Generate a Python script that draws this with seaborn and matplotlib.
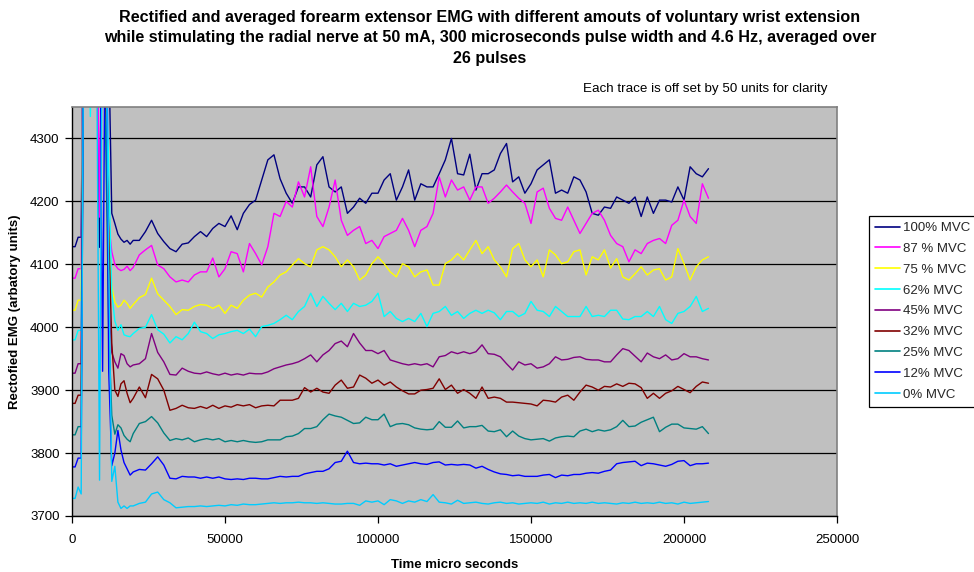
import numpy as np
import pandas as pd
import matplotlib
matplotlib.use("Agg")
import matplotlib.pyplot as plt
import seaborn as sns

# Sample times (microseconds): 1 ms steps through the stimulus artefact, 2 ms afterwards
time_us = np.concatenate([np.arange(0, 20000, 1000), np.arange(20000, 208001, 2000)])

labels = ["100% MVC", "87 % MVC", "75 % MVC", "62% MVC", "45% MVC",
          "32% MVC", "25% MVC", "12% MVC", "0% MVC"]
colors = ["#000080", "#FF00FF", "#FFFF00", "#00FFFF", "#800080",
          "#800000", "#008080", "#0000FF", "#00CCFF"]

mvc100 = [4128, 4128, 4143, 4143, 4700, 4800, 4750, 4700, 4600, 4127,
          4650, 4700, 4450, 4181, 4165, 4148, 4140, 4135, 4138, 4132,
          4138, 4138, 4152, 4170, 4149, 4136, 4125, 4120, 4132, 4134,
          4144, 4152, 4144, 4157, 4165, 4160, 4177, 4155, 4181, 4195,
          4202, 4234, 4266, 4274, 4236, 4213, 4197, 4223, 4223, 4207,
          4258, 4271, 4223, 4215, 4223, 4181, 4191, 4205, 4197, 4213,
          4213, 4234, 4244, 4202, 4223, 4250, 4202, 4228, 4223, 4223,
          4244, 4266, 4300, 4244, 4242,
          4275, 4218, 4244, 4244, 4250, 4276, 4292, 4231, 4239, 4213,
          4228, 4250, 4258, 4266, 4213, 4218, 4213, 4239, 4234, 4215,
          4181, 4178, 4191, 4189, 4207, 4202, 4197, 4207, 4176, 4207,
          4181, 4202, 4202, 4199, 4223, 4202, 4255, 4244, 4239, 4252]

mvc87 = [4078, 4078, 4093, 4093, 4700, 4750, 4700, 4650, 4600, 4175,
         4600, 4650, 4165, 4120, 4100, 4093, 4090, 4092, 4097, 4090,
         4095, 4115, 4123, 4130, 4099, 4093, 4080, 4072, 4075, 4072,
         4083, 4088, 4088, 4110, 4080, 4093, 4120, 4117, 4088, 4133,
         4117, 4099, 4128, 4181, 4176, 4200, 4191, 4231, 4207, 4255,
         4176, 4160, 4191, 4234, 4170, 4146, 4154, 4160, 4133, 4138,
         4125, 4144, 4149, 4154, 4173, 4154, 4128, 4154, 4160, 4181,
         4239, 4207, 4234, 4218, 4223,
         4202, 4223, 4223, 4197, 4205, 4215, 4226, 4215, 4205, 4197,
         4165, 4215, 4221, 4189, 4173, 4170, 4191, 4170, 4149, 4165,
         4181, 4186, 4170, 4146, 4133, 4128, 4104, 4123, 4117, 4133,
         4138, 4141, 4133, 4162, 4170, 4202, 4176, 4165, 4228, 4205]

mvc75 = [4027, 4027, 4043, 4043, 4700, 4700, 4650, 4600, 4550, 4500,
         4600, 4400, 4150, 4064, 4040, 4032, 4035, 4043, 4038, 4030,
         4036, 4047, 4052, 4078, 4053, 4043, 4033, 4020, 4028, 4027,
         4033, 4036, 4035, 4030, 4035, 4022, 4035, 4030, 4043, 4051,
         4054, 4048, 4064, 4072, 4083, 4088, 4099, 4109, 4101, 4096,
         4123, 4128, 4123, 4112, 4096, 4107, 4096, 4075, 4083, 4101,
         4112, 4101, 4088, 4080, 4101, 4096, 4080, 4088, 4091, 4067,
         4067, 4101, 4107, 4117, 4107,
         4123, 4138, 4117, 4128, 4107, 4096, 4080, 4125, 4133, 4107,
         4096, 4107, 4080, 4123, 4115, 4101, 4104, 4120, 4123, 4083,
         4112, 4107, 4123, 4094, 4109, 4080, 4075, 4085, 4096, 4083,
         4091, 4093, 4075, 4080, 4125, 4101, 4075, 4096, 4107, 4112]

mvc62 = [3980, 3980, 3995, 3995, 4700, 4600, 4335, 4600, 4650, 4600,
         4500, 4500, 4250, 4055, 4010, 3995, 4004, 3988, 3986, 3985,
         3990, 3998, 4000, 4020, 3996, 3989, 3975, 3985, 3980, 3990,
         4008, 3993, 3990, 3982, 3988, 3990, 3993, 3995, 3990, 3997,
         3985, 4001, 4003, 4006, 4012, 4019, 4012, 4025, 4033, 4054,
         4033, 4049, 4038, 4028, 4038, 4025, 4038, 4033, 4035, 4041,
         4054, 4017, 4025, 4014, 4009, 4014, 4009, 4022, 4001, 4022,
         4025, 4033, 4019, 4025, 4014,
         4022, 4027, 4022, 4027, 4023, 4012, 4025, 4025, 4017, 4022,
         4041, 4027, 4025, 4017, 4033, 4025, 4017, 4017, 4017, 4033,
         4017, 4019, 4017, 4027, 4027, 4013, 4012, 4017, 4017, 4025,
         4017, 4033, 4012, 4006, 4022, 4025, 4033, 4049, 4025, 4030]

mvc45 = [3927, 3927, 3942, 3942, 4700, 4700, 4650, 4600, 4600, 4550,
         4500, 4400, 4050, 3960, 3945, 3935, 3958, 3955, 3942, 3937,
         3940, 3942, 3950, 3990, 3960, 3945, 3925, 3924, 3935, 3930,
         3927, 3926, 3929, 3926, 3924, 3927, 3924, 3926, 3924, 3927,
         3926, 3926, 3929, 3934, 3937, 3940, 3942, 3945, 3950, 3956,
         3945, 3956, 3963, 3974, 3978, 3969, 3990, 3975, 3963, 3963,
         3958, 3963, 3948, 3945, 3942, 3940, 3942, 3940, 3942, 3937,
         3953, 3955, 3961, 3958, 3961,
         3958, 3961, 3972, 3958, 3957, 3953, 3942, 3932, 3945, 3940,
         3942, 3935, 3937, 3942, 3953, 3948, 3949, 3952, 3953, 3949,
         3948, 3948, 3945, 3945, 3956, 3966, 3963, 3954, 3945, 3959,
         3953, 3950, 3956, 3948, 3950, 3958, 3953, 3953, 3950, 3948]

mvc32 = [3879, 3879, 3892, 3892, 4650, 4700, 4650, 4600, 4550, 4500,
         4450, 4350, 4150, 3975, 3900, 3890, 3910, 3915, 3895, 3880,
         3887, 3905, 3888, 3925, 3918, 3900, 3868, 3871, 3876, 3872,
         3871, 3874, 3871, 3876, 3871, 3875, 3873, 3877, 3875, 3877,
         3872, 3875, 3876, 3875, 3884, 3884, 3884, 3887, 3904, 3897,
         3903, 3897, 3895, 3908, 3916, 3903, 3905, 3924, 3919, 3911,
         3916, 3908, 3913, 3905, 3899, 3894, 3894, 3900, 3901, 3903,
         3918, 3901, 3908, 3895, 3901,
         3895, 3887, 3905, 3887, 3889, 3887, 3881, 3881, 3880, 3879,
         3878, 3875, 3884, 3883, 3881, 3889, 3892, 3884, 3897, 3908,
         3905, 3900, 3906, 3905, 3910, 3906, 3911, 3910, 3904, 3887,
         3895, 3887, 3895, 3899, 3906, 3901, 3896, 3906, 3913, 3911]

mvc25 = [3829, 3829, 3842, 3842, 4650, 4700, 4650, 4600, 4550, 4500,
         4450, 4300, 4000, 3860, 3830, 3845, 3840, 3828, 3822, 3818,
         3831, 3847, 3850, 3858, 3848, 3832, 3820, 3823, 3821, 3824,
         3818, 3821, 3823, 3821, 3823, 3818, 3820, 3818, 3820, 3818,
         3817, 3818, 3821, 3821, 3821, 3826, 3827, 3831, 3839, 3839,
         3842, 3853, 3862, 3859, 3857, 3852, 3847, 3848, 3857, 3853,
         3853, 3862, 3842, 3846, 3847, 3845, 3840, 3838, 3837, 3838,
         3850, 3841, 3841, 3851, 3840,
         3842, 3842, 3844, 3835, 3834, 3837, 3826, 3835, 3827, 3823,
         3821, 3822, 3823, 3819, 3824, 3826, 3827, 3826, 3835, 3838,
         3834, 3837, 3835, 3837, 3842, 3852, 3842, 3843, 3849, 3853,
         3857, 3834, 3841, 3846, 3846, 3840, 3839, 3838, 3842, 3831]

mvc12 = [3778, 3778, 3792, 3792, 4650, 4700, 4650, 4600, 4550, 4600,
         3930, 4600, 3930, 3780, 3800, 3836, 3805, 3785, 3775, 3765,
         3770, 3774, 3773, 3783, 3794, 3781, 3760, 3759, 3763, 3762,
         3762, 3760, 3762, 3760, 3762, 3759, 3758, 3759, 3758, 3760,
         3760, 3759, 3759, 3761, 3763, 3762, 3763, 3763, 3767, 3769,
         3771, 3771, 3775, 3785, 3787, 3803, 3785, 3783, 3784, 3783,
         3783, 3781, 3783, 3779, 3781, 3783, 3785, 3783, 3782, 3785,
         3786, 3781, 3782, 3781, 3782,
         3781, 3776, 3779, 3774, 3770, 3767, 3766, 3764, 3765, 3763,
         3763, 3763, 3765, 3766, 3761, 3765, 3764, 3766, 3766, 3768,
         3769, 3768, 3771, 3773, 3783, 3785, 3786, 3787, 3780, 3784,
         3783, 3781, 3779, 3782, 3787, 3788, 3780, 3783, 3783, 3784]

mvc0 = [3728, 3728, 3746, 3735, 4700, 4750, 4700, 4650, 4500, 3757,
        4600, 4500, 4100, 3755, 3779, 3722, 3712, 3716, 3712, 3716,
        3716, 3720, 3722, 3735, 3738, 3726, 3721, 3713, 3714, 3715,
        3715, 3716, 3715, 3716, 3717, 3716, 3718, 3717, 3719, 3718,
        3718, 3719, 3720, 3721, 3720, 3721, 3721, 3722, 3721, 3721,
        3720, 3721, 3720, 3719, 3719, 3720, 3720, 3717, 3724, 3722,
        3724, 3718, 3726, 3724, 3720, 3724, 3722, 3726, 3723, 3734,
        3722, 3721, 3719, 3725, 3720,
        3721, 3722, 3720, 3719, 3721, 3722, 3720, 3721, 3719, 3720,
        3721, 3720, 3722, 3719, 3721, 3720, 3722, 3720, 3721, 3720,
        3722, 3720, 3721, 3720, 3719, 3721, 3720, 3722, 3720, 3721,
        3720, 3722, 3720, 3721, 3719, 3722, 3720, 3721, 3722, 3723]

traces = [mvc100, mvc87, mvc75, mvc62, mvc45, mvc32, mvc25, mvc12, mvc0]

df = pd.concat(
    [pd.DataFrame({"time": time_us, "emg": vals, "trace": lab})
     for lab, vals in zip(labels, traces)],
    ignore_index=True,
)

sns.set_theme(style="white")
plt.rcParams["font.family"] = ["Liberation Sans", "DejaVu Sans"]

fig = plt.figure(figsize=(9.74, 5.72), dpi=100)
ax = fig.add_axes([72 / 974, 56 / 572, 765 / 974, 409 / 572])
ax.set_facecolor("#C0C0C0")

yticks = list(range(3700, 4301, 100))
xticks = list(range(0, 250001, 50000))
for y in yticks:
    ax.axhline(y, color="black", lw=0.9, zorder=1)

sns.lineplot(data=df, x="time", y="emg", hue="trace", hue_order=labels,
             palette=dict(zip(labels, colors)), estimator=None, sort=False,
             linewidth=1.0, ax=ax, zorder=2)

ax.set_xlim(0, 250000)
ax.set_ylim(3700, 4350)
ax.set_xticks(xticks)
ax.set_xticklabels([str(v) for v in xticks])
ax.set_yticks(yticks)
ax.set_yticklabels([str(v) for v in yticks])
ax.tick_params(axis="both", which="major", bottom=True, left=True, direction="out",
               length=5, width=0.9, color="black", labelsize=9.5, labelcolor="black")
ax.tick_params(axis="x", pad=8)
ax.tick_params(axis="y", pad=4)

for side in ("left", "bottom"):
    ax.spines[side].set_color("black")
    ax.spines[side].set_linewidth(1.0)
for side in ("top", "right"):
    ax.spines[side].set_color("#808080")
    ax.spines[side].set_linewidth(1.2)

ax.set_xlabel("Time micro seconds", fontsize=9.5, fontweight="bold", color="black")
ax.xaxis.set_label_coords(0.5, (516 - 559) / 409)
ax.set_ylabel("Rectofied EMG (arbatory units)", fontsize=9.5, fontweight="bold", color="black")
ax.yaxis.set_label_coords((21 - 72) / 765, 0.5)

handles, hlabels = ax.get_legend_handles_labels()
ax.get_legend().remove()
leg = fig.legend(handles, hlabels, loc="upper left",
                 bbox_to_anchor=(869 / 974, 1 - 216 / 572, 0.14, 0),
                 mode="expand", frameon=True, fancybox=False, edgecolor="black",
                 facecolor="white", framealpha=1, fontsize=9.5, labelspacing=0.65,
                 handlelength=1.9, handletextpad=0.25, borderpad=0.45, borderaxespad=0)
leg.get_frame().set_linewidth(0.9)
for line in leg.get_lines():
    line.set_linewidth(1.2)

fig.text(490 / 974, 1 - 10 / 572,
         "Rectified and averaged forearm extensor EMG with different amouts of voluntary wrist extension\n"
         "while stimulating the radial nerve at 50 mA, 300 microseconds pulse width and 4.6 Hz, averaged over\n"
         "26 pulses",
         ha="center", va="top", fontsize=11.6, fontweight="bold", linespacing=1.45, color="black")
fig.text(583 / 974, 1 - 89 / 572, "Each trace is off set by 50 units for clarity",
         ha="left", va="center", fontsize=9.6, color="black")

fig.savefig("out.png", dpi=100, facecolor="white")
